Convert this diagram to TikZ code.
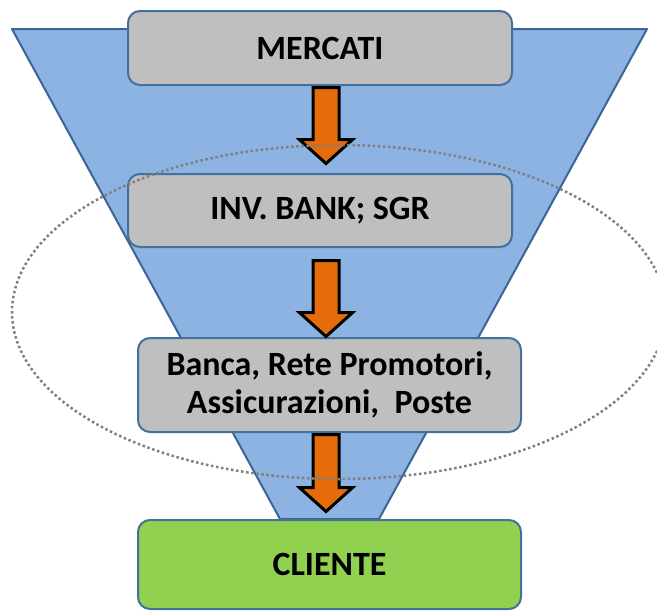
\documentclass[tikz,border=0pt]{standalone}
\usepackage{fontspec}
\setmainfont{Carlito}
\usetikzlibrary{shapes.arrows}

\definecolor{funnelblue}{HTML}{8DB3E2}
\definecolor{funnelline}{HTML}{3A6596}
\definecolor{boxgray}{HTML}{BFBFBF}
\definecolor{boxline}{HTML}{41719C}
\definecolor{clientgreen}{HTML}{92D050}
\definecolor{arroworange}{HTML}{E46C0A}
\definecolor{dotgray}{HTML}{808080}

\begin{document}
\begin{tikzpicture}[x=1pt,y=-1pt,
	box/.style={draw=boxline,line width=2pt,rounded corners=12pt,fill=boxgray,
		font=\fontsize{34}{38}\selectfont\bfseries,align=center,inner sep=0pt,
		minimum width=384pt},
	flowarrow/.style={single arrow,draw=black,line width=3pt,fill=arroworange,
		rotate=-90,anchor=tail,inner xsep=0pt,inner ysep=11.5pt,single arrow head extend=13.5pt,
		single arrow tip angle=96,minimum height=76pt}]
		    	\useasboundingbox (0,0) rectangle (657,611);
		    	
		    	% funnel
		    	\draw[funnelline,line width=2pt,fill=funnelblue,line join=round] (12,29) -- (647,29) -- (379,519) -- (280,519) -- cycle;
		    	
		    	\node[box,minimum height=74pt] (MERC) at (320,48) {MERCATI};
		    	\node[box,minimum height=73pt] (INV) at (320,210.5) {INV. BANK; SGR};
		    	\node[box,minimum height=94pt,minimum width=383pt] (BANCA) at (329.5,385) {Banca, Rete Promotori,\\Assicurazioni,\ \ Poste};
		    	\node[box,fill=clientgreen,minimum height=89pt,minimum width=383pt] (CLI) at (329.5,564.5) {CLIENTE};
		    	
		    	% block arrows hang from the boxes
		    	\node[flowarrow] (A1) at ([xshift=6pt]MERC.south) {};
		    	\node[flowarrow] (A2) at ([xshift=6pt,yshift=-11pt]INV.south) {};
		    	\node[flowarrow,minimum height=77pt] (A3) at ([xshift=-3.5pt]BANCA.south) {};
		    	
		    	% dotted ring
		    	\draw[dotgray,line width=2.5pt,dash pattern=on 2.5pt off 2.6pt] (339,312) ellipse [x radius=327pt, y radius=167pt];
		    \end{tikzpicture}
\end{document}
